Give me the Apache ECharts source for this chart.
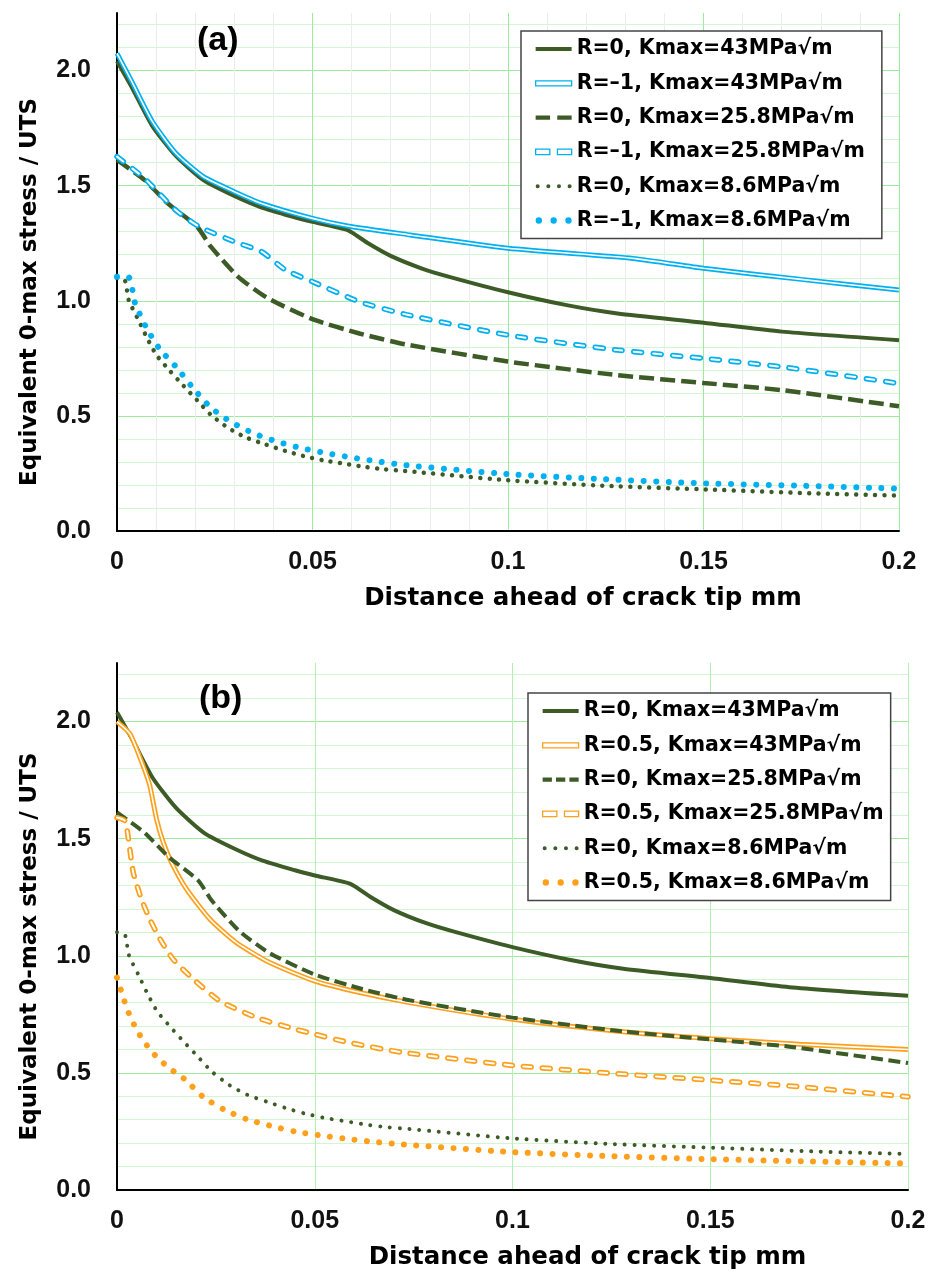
<!DOCTYPE html>
<html>
<head>
<meta charset="utf-8">
<script src="https://cdn.jsdelivr.net/npm/echarts@6/dist/echarts.min.js"></script>
<style>
html, body { margin: 0; padding: 0; background: #fff; }
#chartA { width: 934px; height: 640px; }
#chartB { width: 934px; height: 637px; }
</style>
</head>
<body>
<div id="chartA"></div>
<div id="chartB"></div>
<script>
// ==== data ====
const xTicks = [0, 0.05, 0.1, 0.15, 0.2];
const yTicks = [0, 0.5, 1, 1.5, 2];

const namesA = ["R=0, Kmax=43MPa√m", "R=–1, Kmax=43MPa√m", "R=0, Kmax=25.8MPa√m",
	"R=–1, Kmax=25.8MPa√m", "R=0, Kmax=8.6MPa√m", "R=–1, Kmax=8.6MPa√m"];
const namesB = ["R=0, Kmax=43MPa√m", "R=0.5, Kmax=43MPa√m", "R=0, Kmax=25.8MPa√m",
	"R=0.5, Kmax=25.8MPa√m", "R=0, Kmax=8.6MPa√m", "R=0.5, Kmax=8.6MPa√m"];

// R = 0 (same curves in both panels)
const r0k43X = [0, 0.004, 0.009, 0.015, 0.022, 0.03, 0.037, 0.045, 0.05, 0.059, 0.064, 0.07, 0.078, 0.085, 0.1, 0.115, 0.128, 0.15, 0.17, 0.2];
const r0k43Y = [2.04, 1.92, 1.76, 1.63, 1.525, 1.455, 1.405, 1.365, 1.343, 1.307, 1.252, 1.195, 1.14, 1.104, 1.037, 0.981, 0.945, 0.905, 0.866, 0.829];
const r0k258X = [0, 0.007, 0.013, 0.0205, 0.024, 0.031, 0.0385, 0.05, 0.062, 0.074, 0.1, 0.128, 0.15, 0.17, 0.2];
const r0k258Y = [1.612, 1.525, 1.423, 1.322, 1.235, 1.104, 1.012, 0.92, 0.858, 0.81, 0.736, 0.677, 0.643, 0.612, 0.542];
const r0k86X = [0, 0.002, 0.003, 0.0055, 0.0078, 0.0101, 0.0135, 0.017, 0.0205, 0.024, 0.0285, 0.033, 0.038, 0.043, 0.0476, 0.0527, 0.058, 0.0635, 0.0685, 0.0735, 0.0995, 0.1253, 0.1514, 0.1773, 0.2];
const r0k86Y = [1.10, 1.09, 1.003, 0.916, 0.835, 0.764, 0.696, 0.631, 0.568, 0.505, 0.447, 0.406, 0.376, 0.348, 0.326, 0.307, 0.293, 0.278, 0.268, 0.261, 0.221, 0.196, 0.18, 0.164, 0.154];

// R = -1
const rm1k43X = [0, 0.004, 0.009, 0.015, 0.022, 0.03, 0.037, 0.05, 0.059, 0.075, 0.1, 0.132, 0.15, 0.175, 0.2];
const rm1k43Y = [2.075, 1.945, 1.78, 1.642, 1.54, 1.474, 1.423, 1.358, 1.325, 1.286, 1.228, 1.184, 1.141, 1.093, 1.047];
const rm1k258X = [0, 0.007, 0.015, 0.021, 0.03, 0.037, 0.043, 0.05, 0.062, 0.074, 0.1, 0.128, 0.15, 0.17, 0.2];
const rm1k258Y = [1.626, 1.532, 1.394, 1.322, 1.257, 1.213, 1.135, 1.083, 0.996, 0.94, 0.851, 0.786, 0.75, 0.713, 0.641];
const rm1k86X = [0, 0.003, 0.0046, 0.0073, 0.0108, 0.0153, 0.0194, 0.0238, 0.0291, 0.0351, 0.0412, 0.0476, 0.0543, 0.0608, 0.0674, 0.0738, 0.1, 0.1233, 0.15, 0.1763, 0.2];
const rm1k86Y = [1.104, 1.102, 0.991, 0.89, 0.793, 0.709, 0.622, 0.539, 0.474, 0.423, 0.387, 0.358, 0.336, 0.317, 0.3, 0.286, 0.247, 0.226, 0.207, 0.196, 0.184];

// R = 0.5
const r05k43X = [0, 0.0033, 0.0066, 0.0083, 0.01, 0.0117, 0.0138, 0.0176, 0.0235, 0.0302, 0.0386, 0.05, 0.0614, 0.074, 0.1, 0.13, 0.15, 0.1725, 0.2];
const r05k43Y = [2.0, 1.947, 1.811, 1.726, 1.583, 1.484, 1.398, 1.284, 1.156, 1.056, 0.971, 0.892, 0.843, 0.8, 0.729, 0.672, 0.646, 0.622, 0.6];
const r05k258X = [0, 0.002, 0.0029, 0.0041, 0.0062, 0.0083, 0.0109, 0.0142, 0.0193, 0.026, 0.0353, 0.0437, 0.05, 0.0588, 0.072, 0.1, 0.126, 0.15, 0.1725, 0.2];
const r05k258Y = [1.59, 1.576, 1.498, 1.356, 1.241, 1.156, 1.071, 0.985, 0.9, 0.807, 0.736, 0.693, 0.665, 0.629, 0.588, 0.532, 0.497, 0.469, 0.441, 0.398];
const r05k86X = [0, 0.001, 0.002, 0.0031, 0.0044, 0.006, 0.0078, 0.0098, 0.0121, 0.0146, 0.0172, 0.0218, 0.0273, 0.033, 0.0391, 0.0452, 0.0515, 0.0578, 0.0641, 0.0704, 0.0987, 0.124, 0.1492, 0.1746, 0.2];
const r05k86Y = [0.907, 0.853, 0.8, 0.75, 0.703, 0.655, 0.612, 0.572, 0.536, 0.503, 0.472, 0.397, 0.341, 0.301, 0.273, 0.249, 0.233, 0.219, 0.207, 0.197, 0.163, 0.145, 0.132, 0.122, 0.113];

// ==== styles ====
const GREEN = "#3d5b27";
const BLUE = "#00b0f0";
const ORANGE = "#ffa01c";
const H_MAJOR = "#9bec9b";
const H_MINOR = "#d2f6d2";
const V_MINOR = "#ececec";
const TITLE_FONT = "DejaVu Sans";
const TICK_FONT = "Liberation Sans";

function pts(xs, ys) {
	return xs.map((x, i) => [x, ys[i]]);
}

// one drawn curve -> one or two line series (double lines get a white core)
function curve(name, xs, ys, color, kind, o) {
	o = o || {};
	const base = {
		type: "line",
		data: pts(xs, ys),
		symbol: "none",
		smooth: 0.2,
		silent: true,
		animation: false,
	};
	switch (kind) {
		case "solid":
			return [{ ...base, name, lineStyle: { color, width: 4 } }];
		case "dash":
			return [{ ...base, name, lineStyle: { color, width: o.w || 4.5, type: o.dash } }];
		case "dot":
			return [{ ...base, name, lineStyle: { color, width: o.size, type: [0.01, o.gap], cap: "round" } }];
		case "double":
			return [
				{ ...base, name, lineStyle: { color, width: 5 } },
				{ ...base, name: name + " core", lineStyle: { color: "#fff", width: 1.6 } },
			];
		case "ddash":
			return [
				{ ...base, name, lineStyle: { color, width: 5.5, type: o.dash, cap: "round" } },
				{ ...base, name: name + " core", lineStyle: { color: "#fff", width: 2, type: o.dash, cap: "round" } },
			];
	}
}

function dotsIcon(n, r, step) {
	let p = "path://";
	for (let i = 0; i < n; i++) {
		const cx = r + i * step;
		p += `M${cx - r},${r}A${r},${r} 0 1 1 ${cx + r},${r}A${r},${r} 0 1 1 ${cx - r},${r}Z `;
	}
	return p;
}

const ICONS = {
	solid: "path://M0,0H36V4H0Z",
	double: "path://M0,0H36V5H0Z",
	dash2: "path://M0,0H14V4H0Z M21,0H35V4H21Z",
	dash3: "path://M0,0H9V4H0Z M13,0H22V4H13Z M26,0H35V4H26Z",
	ddash: "path://M0,0H13V5H0Z M20,0H33V5H20Z",
	dotS: dotsIcon(4, 2, 10.5),
	dotL: dotsIcon(3, 3, 14),
};

function legendItem(name, color, icon, outlined) {
	return {
		name,
		icon: ICONS[icon],
		itemStyle: outlined
			? { color: "#fff", borderColor: color, borderWidth: 1.3 }
			: { color, borderWidth: 0 },
	};
}

function fmtY(v) {
	return yTicks.some((t) => Math.abs(t - v) < 1e-9) ? v.toFixed(1) : "";
}
function fmtX(v) {
	return xTicks.some((t) => Math.abs(t - v) < 1e-9) ? String(+v.toFixed(2)) : "";
}

// 0.1 steps: every 5th line is a major one; the 2.25 top tick stays invisible
const hColors = [];
for (let i = 0; i < 24; i++) hColors.push(i === 23 ? "rgba(0,0,0,0)" : i % 5 === 0 ? H_MAJOR : H_MINOR);

function baseOption(grid, xInterval, vColors, legendPos, legendPadRight, legendData, title, titlePos) {
	return {
		animation: false,
		title: {
			text: title,
			left: titlePos[0],
			top: titlePos[1],
			padding: 0,
			textStyle: { fontFamily: TICK_FONT, fontWeight: "bold", fontSize: 34, color: "#000" },
		},
		grid,
		legend: {
			orient: "vertical",
			left: legendPos[0],
			top: legendPos[1],
			padding: [5, legendPadRight, 5, 14],
			itemWidth: 36,
			itemHeight: 14,
			itemGap: 8.3,
			symbolKeepAspect: true,
			selectedMode: false,
			backgroundColor: "#fff",
			borderColor: "#444",
			borderWidth: 1.5,
			textStyle: { fontFamily: TITLE_FONT, fontWeight: "bold", fontSize: 20.5, lineHeight: 26, color: "#000" },
			data: legendData,
		},
		xAxis: {
			type: "value",
			min: 0,
			max: 0.2,
			interval: xInterval,
			axisLine: { show: true, lineStyle: { color: "#000", width: 2 } },
			axisTick: { show: false },
			axisLabel: {
				formatter: fmtX,
				margin: 19,
				fontFamily: TICK_FONT,
				fontWeight: "bold",
				fontSize: 25,
				color: "#111",
			},
			splitLine: { show: true, lineStyle: { color: vColors, width: 1 } },
			name: "Distance ahead of crack tip mm",
			nameLocation: "middle",
			nameGap: 55,
			nameTextStyle: {
				fontFamily: TITLE_FONT,
				fontWeight: "bold",
				fontSize: 24.5,
				color: "#000",
				padding: [0, 0, 0, 150],
			},
		},
		yAxis: {
			type: "value",
			min: 0,
			max: 2.25,
			interval: 0.1,
			axisLine: { show: true, lineStyle: { color: "#000", width: 2 } },
			axisTick: { show: false },
			axisLabel: {
				formatter: fmtY,
				margin: 26,
				fontFamily: TICK_FONT,
				fontWeight: "bold",
				fontSize: 25,
				color: "#111",
			},
			splitLine: { show: true, lineStyle: { color: hColors, width: 1 } },
			name: "Equivalent 0-max stress / UTS",
			nameLocation: "middle",
			nameGap: 75,
			nameTextStyle: {
				fontFamily: TITLE_FONT,
				fontWeight: "bold",
				fontSize: 23,
				color: "#000",
				padding: [0, 40, 0, 0],
			},
		},
	};
}

// ==== (a) ====
const vColorsA = [H_MAJOR, V_MINOR, V_MINOR, V_MINOR, V_MINOR];
const chartA = echarts.init(document.getElementById("chartA"));
const optionA = baseOption(
	{ left: 117, top: 13, width: 782, height: 518 },
	0.01,
	vColorsA,
	[521, 31],
	17,
	[
		legendItem(namesA[0], GREEN, "solid", false),
		legendItem(namesA[1], BLUE, "double", true),
		legendItem(namesA[2], GREEN, "dash2", false),
		legendItem(namesA[3], BLUE, "ddash", true),
		legendItem(namesA[4], GREEN, "dotS", false),
		legendItem(namesA[5], BLUE, "dotL", false),
	],
	"(a)",
	[197, 24]
);
optionA.series = [].concat(
	curve(namesA[0], r0k43X, r0k43Y, GREEN, "solid"),
	curve(namesA[1], rm1k43X, rm1k43Y, BLUE, "double"),
	curve(namesA[2], r0k258X, r0k258Y, GREEN, "dash", { dash: [15, 6] }),
	curve(namesA[3], rm1k258X, rm1k258Y, BLUE, "ddash", { dash: [8, 11.5] }),
	curve(namesA[4], r0k86X, r0k86Y, GREEN, "dot", { size: 4.5, gap: 9.4 }),
	curve(namesA[5], rm1k86X, rm1k86Y, BLUE, "dot", { size: 6, gap: 12.5 })
);
chartA.setOption(optionA);

// ==== (b) ====
const vColorsB = ["#b3efb3"];
const chartB = echarts.init(document.getElementById("chartB"));
const optionB = baseOption(
	{ left: 117, top: 23, width: 791, height: 527 },
	0.05,
	vColorsB,
	[528, 53],
	7,
	[
		legendItem(namesB[0], GREEN, "solid", false),
		legendItem(namesB[1], ORANGE, "double", true),
		legendItem(namesB[2], GREEN, "dash3", false),
		legendItem(namesB[3], ORANGE, "ddash", true),
		legendItem(namesB[4], GREEN, "dotS", false),
		legendItem(namesB[5], ORANGE, "dotL", false),
	],
	"(b)",
	[199, 42]
);
optionB.series = [].concat(
	curve(namesB[0], r0k43X, r0k43Y, GREEN, "solid"),
	curve(namesB[1], r05k43X, r05k43Y, ORANGE, "double"),
	curve(namesB[2], r0k258X, r0k258Y, GREEN, "dash", { dash: [12, 5.5], w: 4 }),
	curve(namesB[3], r05k258X, r05k258Y, ORANGE, "ddash", { dash: [8, 11] }),
	curve(namesB[4], r0k86X, r0k86Y, GREEN, "dot", { size: 4, gap: 9.8 }),
	curve(namesB[5], r05k86X, r05k86Y, ORANGE, "dot", { size: 6, gap: 12.4 })
);
chartB.setOption(optionB);
</script>
</body>
</html>
